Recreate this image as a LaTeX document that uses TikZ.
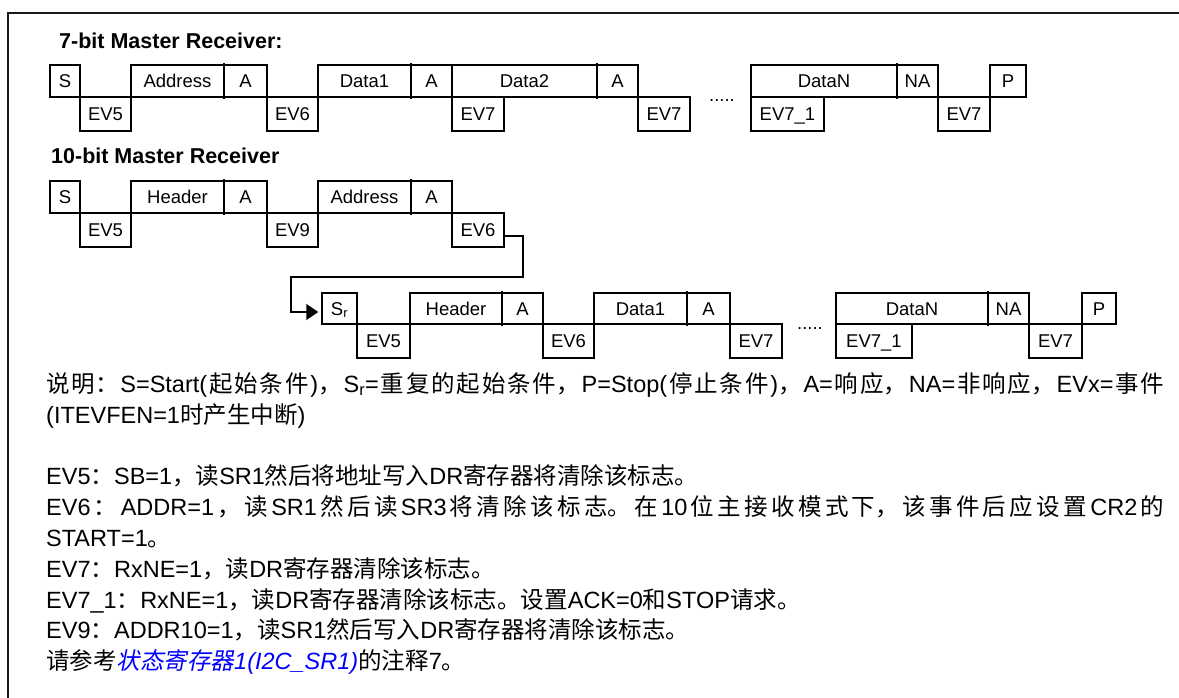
\documentclass[tikz,border=0pt]{standalone}
\usepackage{fontspec}
\usetikzlibrary{arrows.meta}
\setmainfont{Liberation Sans}
\newfontfamily\zhf{Noto Sans CJK SC}
\newfontfamily\zhitf[FakeSlant=0.2]{Noto Sans CJK SC}
\newcommand\zh[1]{{\zhf #1}}
\newcommand\zi[1]{{\zhitf #1}}
\newcommand\gl{\hskip 0pt plus 15pt\relax}
\XeTeXlinebreaklocale "zh"
\XeTeXlinebreakskip=0pt plus 15pt
\tikzset{
  bx/.style={draw, line width=1.5pt, inner sep=0pt, text height=13pt, text depth=0pt,
    font=\fontsize{18.5}{20}\selectfont},
  ttl/.style={anchor=base west, inner sep=0pt, font=\fontsize{21.5}{24}\selectfont\bfseries},
  ln/.style={anchor=base west, inner sep=0pt, font=\fontsize{23.5}{27}\selectfont},
  jln/.style={ln, text width=1118pt, align=justify},
  dots/.style={anchor=base, inner sep=0pt, font=\fontsize{18.5}{20}\selectfont},
  conn/.style={line width=1.5pt},
  divl/.style={line width=1.5pt},
  frame/.style={line width=2.3pt, black!90},
}
% name, x1, x2, y1, y2, text
\newcommand\bx[6]{\node[bx, minimum width={(#3-#2)*1pt}, minimum height={(#5-#4)*1pt}] (#1) at ({(#2+#3)/2},{(#4+#5)/2}) {#6};}
\newcommand\dv[3]{\draw[divl] (#1,{#2-2}) -- (#1,{#3+2});}
\begin{document}
\begin{tikzpicture}[x=1pt,y=-1pt]
\useasboundingbox (0,0) rectangle (1179,698);
\draw[frame] (8,700) -- (8,13) -- (1181,13);

% ---------- 7-bit
\node[ttl] (t1) at (59,49) {7-bit Master Receiver:};
\bx{a1}{50}{80}{65}{97}{S}
\bx{a2}{80}{131}{97}{131}{EV5}
\bx{a3}{131}{224}{65}{97}{Address}
\bx{a4}{224}{267}{65}{97}{A}
\bx{a5}{267}{318}{97}{131}{EV6}
\bx{a6}{318}{411}{65}{97}{Data1}
\bx{a7}{411}{452}{65}{97}{A}
\bx{a8}{452}{597}{65}{97}{Data2}
\bx{a9}{597}{638}{65}{97}{A}
\bx{a10}{452}{504}{97}{131}{EV7}
\bx{a11}{638}{690}{97}{131}{EV7}
\node[dots] (ad) at (722,102) {.....};
\bx{a12}{751}{897}{65}{97}{DataN}
\bx{a13}{751}{824}{97}{131}{EV7\_1}
\bx{a14}{897}{938}{65}{97}{NA}
\bx{a15}{938}{990}{97}{131}{EV7}
\bx{a16}{990}{1026}{65}{97}{P}
\dv{224}{65}{97}\dv{411}{65}{97}\dv{597}{65}{97}\dv{897}{65}{97}

% ---------- 10-bit
\node[ttl] (t2) at (51,164) {10-bit Master Receiver};
\bx{b1}{50}{80}{181}{213}{S}
\bx{b2}{80}{131}{213}{247}{EV5}
\bx{b3}{131}{224}{181}{213}{Header}
\bx{b4}{224}{267}{181}{213}{A}
\bx{b5}{267}{318}{213}{247}{EV9}
\bx{b6}{318}{411}{181}{213}{Address}
\bx{b7}{411}{452}{181}{213}{A}
\bx{b8}{452}{504}{213}{247}{EV6}
\dv{224}{181}{213}\dv{411}{181}{213}

\bx{c1}{322}{357}{293}{324}{S\textsubscript{r}}
\bx{c2}{357}{410}{324}{358}{EV5}
\bx{c3}{410}{502}{293}{324}{Header}
\bx{c4}{502}{543}{293}{324}{A}
\bx{c5}{543}{594}{324}{358}{EV6}
\bx{c6}{594}{687}{293}{324}{Data1}
\bx{c7}{687}{730}{293}{324}{A}
\bx{c8}{730}{782}{324}{358}{EV7}
\node[dots] (cd) at (810,329) {.....};
\bx{c9}{836}{988}{293}{324}{DataN}
\bx{c10}{836}{912}{324}{358}{EV7\_1}
\bx{c11}{988}{1029}{293}{324}{NA}
\bx{c12}{1029}{1082}{324}{358}{EV7}
\bx{c13}{1082}{1116}{293}{324}{P}
\dv{502}{293}{324}\dv{687}{293}{324}\dv{988}{293}{324}

\coordinate (k1) at (523,277);
\coordinate (k2) at (291,312);
\draw[conn, -{Triangle[length=12pt,width=16pt]}, shorten >=3pt]
  ([yshift=-6pt]b8.east) -| (k1) -- (k1 -| k2) -- (k2) -- (c1.west |- k2);

% ---------- text
\node[jln] (l1) at (46,392) {\parfillskip=0pt\zh{说明：}\gl S=Start(\gl\zh{起始条件}\gl)\zh{，}\gl S\textsubscript{r}=\gl\zh{重复的起始条件，}\gl P=Stop(\gl\zh{停止条件}\gl)\zh{，}\gl A=\gl\zh{响应，}\gl NA=\gl\zh{非响应，}\gl EVx=\gl\zh{事件}\par};
\node[ln] (l2) at (46,423) {(ITEVFEN=1\zh{时产生中断})};
\node[ln] (l3) at (46,484) {EV5\zh{：}SB=1\zh{，读}SR1\zh{然后将地址写入}DR\zh{寄存器将清除该标志。}};
\node[jln] (l4) at (46,515) {\parfillskip=0pt EV6\gl\zh{：}\gl ADDR=1\gl\zh{，读}\gl SR1\gl\zh{然后读}\gl SR3\gl\zh{将清除该标志。在}\gl 10\gl\zh{位主接收模式下，该事件后应设置}\gl CR2\gl\zh{的}\par};
\node[ln] (l5) at (46,546) {START=1\zh{。}};
\node[ln] (l6) at (46,577) {EV7\zh{：}RxNE=1\zh{，读}DR\zh{寄存器清除该标志。}};
\node[ln] (l7) at (46,608) {EV7\_1\zh{：}RxNE=1\zh{，读}DR\zh{寄存器清除该标志。设置}ACK=0\zh{和}STOP\zh{请求。}};
\node[ln] (l8) at (46,638) {EV9\zh{：}ADDR10=1\zh{，读}SR1\zh{然后写入}DR\zh{寄存器将清除该标志。}};
\node[ln] (l9) at (46,669) {\zh{请参考}\textcolor{blue}{\zi{状态寄存器}\itshape 1(I2C\_SR1)}\zh{的注释}7\zh{。}};
\end{tikzpicture}
\end{document}
